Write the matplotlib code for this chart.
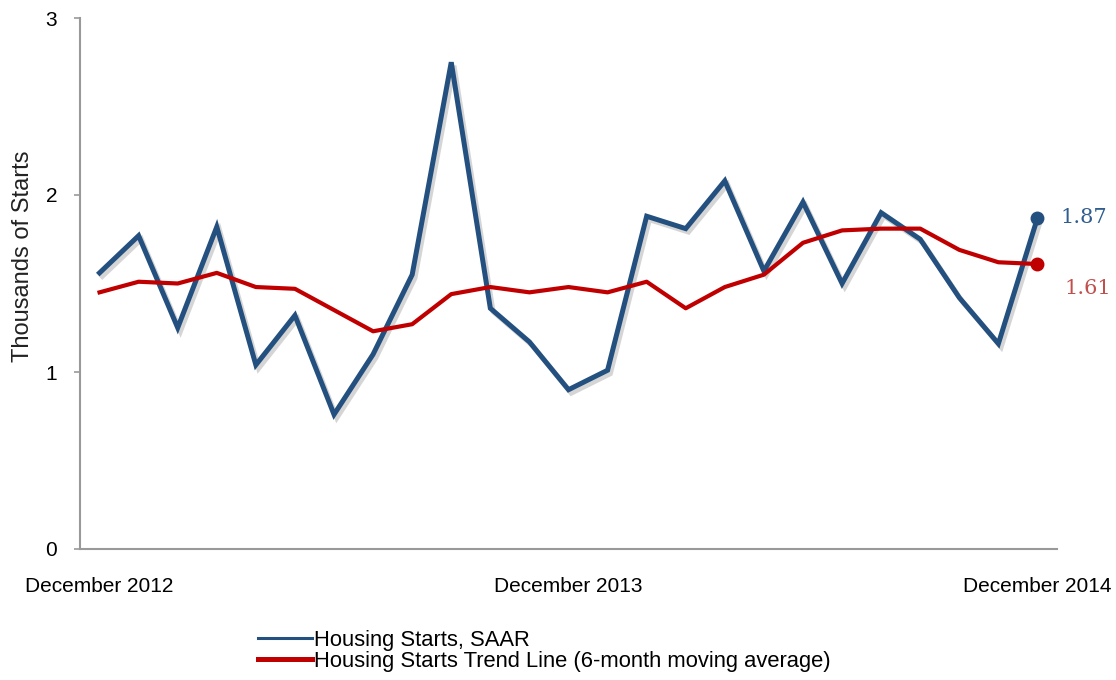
import matplotlib
matplotlib.use("Agg")
import matplotlib.pyplot as plt
import matplotlib.patheffects as pe
from matplotlib.lines import Line2D

# monthly housing starts, Dec 2012 .. Dec 2014
months = list(range(25))
starts = [1.56, 1.77, 1.25, 1.82, 1.04, 1.32, 0.76, 1.10, 1.55, 2.75,
          1.36, 1.17, 0.90, 1.01, 1.88, 1.81, 2.08, 1.57, 1.96, 1.50,
          1.90, 1.75, 1.42, 1.16, 1.87]
trend = [1.45, 1.51, 1.50, 1.56, 1.48, 1.47, 1.35, 1.23, 1.27, 1.44,
         1.48, 1.45, 1.48, 1.45, 1.51, 1.36, 1.48, 1.55, 1.73, 1.80,
         1.81, 1.81, 1.69, 1.62, 1.61]
tick_pos = [0, 12, 24]
tick_labels = ["December 2012", "December 2013", "December 2014"]

blue = "#24507f"
red = "#c00000"

plt.rcParams['font.family'] = ['Liberation Sans', 'DejaVu Sans']

fig = plt.figure(figsize=(11.16, 6.8), dpi=100)
ax = fig.add_axes([80/1116, 1 - 549/680, 977/1116, 531/680])

shadow = [pe.SimpleLineShadow(offset=(2, -2.5), alpha=0.22, shadow_color="#444444"), pe.Normal()]

ax.plot(months, starts, color=blue, lw=3.6, solid_joinstyle="miter", path_effects=shadow, zorder=3)
ax.plot(months, trend, color=red, lw=3.0, zorder=4)
ax.plot(months[-1], starts[-1], "o", color=blue, ms=9, zorder=5)
ax.plot(months[-1], trend[-1], "o", color=red, ms=9, zorder=5)

ax.annotate(f"{starts[-1]:.2f}", (months[-1], starts[-1]), xytext=(23, 1),
            textcoords="offset pixels", ha="left", va="center",
            color="#2f5d8f", fontsize=15, family="DejaVu Serif")
ax.annotate(f"{trend[-1]:.2f}", (months[-1], trend[-1]), xytext=(27, -24),
            textcoords="offset pixels", ha="left", va="center",
            color="#c0504d", fontsize=15, family="DejaVu Serif")

ax.set_xlim(-0.5, 24.5)
ax.set_ylim(0, 3)
ax.set_yticks([0, 1, 2, 3])
ax.set_xticks(tick_pos)
ax.set_xticklabels(tick_labels)
ax.tick_params(axis="x", length=0, pad=20, labelsize=15)
ax.tick_params(axis="y", length=4.5, width=1.2, color="#999999", pad=12, labelsize=15)

for side in ["top", "right"]:
    ax.spines[side].set_visible(False)
for side in ["left", "bottom"]:
    ax.spines[side].set_color("#999999")
    ax.spines[side].set_linewidth(1.5)

ax.set_ylabel("Thousands of Starts", fontsize=17, color="#222222")
ax.yaxis.set_label_coords(-0.047, 0.552)

handles = [Line2D([], [], color=blue, lw=2.2),
           Line2D([], [], color=red, lw=3.6)]
fig.legend(handles, ["Housing Starts, SAAR",
                     "Housing Starts Trend Line (6-month moving average)"],
           loc="upper left", bbox_to_anchor=(258/1116, 1 - 630/680),
           frameon=False, fontsize=15.8, handlelength=2.45, handletextpad=0.1,
           labelspacing=0.0, borderpad=0, borderaxespad=0)

fig.savefig("out.png", dpi=100)
